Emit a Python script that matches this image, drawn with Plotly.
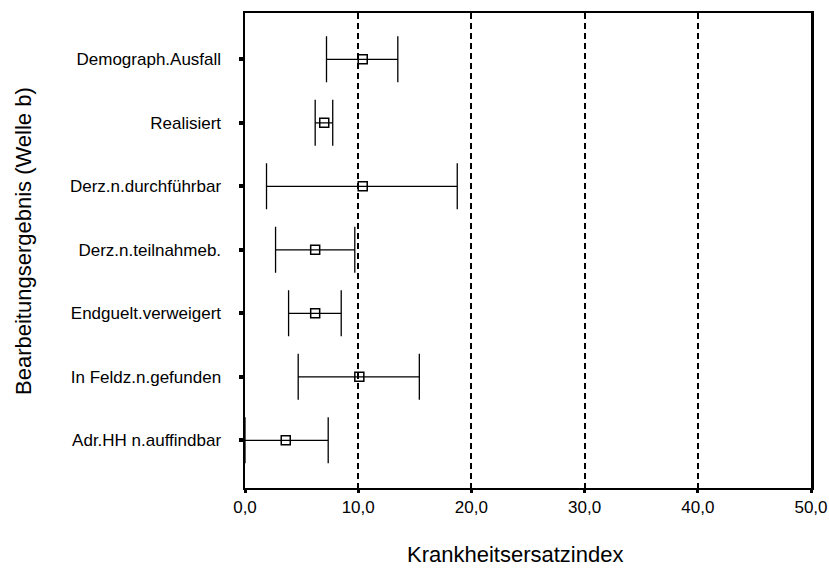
import plotly.graph_objects as go

categories = ["Demograph.Ausfall", "Realisiert", "Derz.n.durchführbar",
              "Derz.n.teilnahmeb.", "Endguelt.verweigert",
              "In Feldz.n.gefunden", "Adr.HH n.auffindbar"]
means = [10.4, 7.0, 10.4, 6.2, 6.2, 10.1, 3.6]
lows = [7.2, 6.2, 1.9, 2.7, 3.85, 4.7, 0.0]
highs = [13.5, 7.75, 18.75, 9.7, 8.5, 15.4, 7.35]
x_ticks = [0, 10, 20, 30, 40, 50]

font_family = "Arial, 'Liberation Sans', Helvetica, sans-serif"

fig = go.Figure()
fig.add_trace(go.Scatter(
    x=means, y=categories, mode="markers",
    marker=dict(symbol="square-open", size=9, color="black", line=dict(width=1.5, color="black")),
    error_x=dict(type="data", symmetric=False,
                 array=[h - m for h, m in zip(highs, means)],
                 arrayminus=[m - l for m, l in zip(means, lows)],
                 color="black", thickness=1.3, width=23),
    showlegend=False, cliponaxis=False, hoverinfo="skip",
))

fig.update_layout(
    width=829, height=569,
    margin=dict(l=245, r=18, t=13, b=81),
    paper_bgcolor="white", plot_bgcolor="white",
    font=dict(family=font_family, color="black", size=15),
    separators=",.",
    xaxis=dict(range=[0, 50], tickvals=x_ticks, tickformat=".1f", automargin=False,
               showgrid=True, gridcolor="black", gridwidth=2, griddash="6px,4px",
               zeroline=False, showline=True, linecolor="black", linewidth=2, mirror=True,
               ticks="outside", ticklen=3, tickwidth=3, tickcolor="black",
               tickfont=dict(size=17)),
    yaxis=dict(categoryorder="array", categoryarray=categories, automargin=False,
               range=[6.75, -0.73], showgrid=False, zeroline=False,
               showline=True, linecolor="black", linewidth=2.5, mirror=True,
               ticks="outside", ticklen=4, tickwidth=4, tickcolor="black",
               ticklabelstandoff=14, tickfont=dict(size=17)),
    annotations=[
        dict(text="Bearbeitungsergebnis (Welle b)", textangle=-90,
             xref="paper", yref="paper", x=0, y=0.52, xshift=-222,
             xanchor="center", yanchor="middle", showarrow=False,
             font=dict(size=22)),
        dict(text="Krankheitsersatzindex",
             xref="paper", yref="paper", x=(515 - 245) / 566, y=0, yshift=-66,
             xanchor="center", yanchor="middle", showarrow=False,
             font=dict(size=22)),
    ],
)

fig.write_html("out.html", config={"displayModeBar": False, "staticPlot": True},
               post_script="document.body.style.margin='0';document.body.style.overflow='hidden';")
